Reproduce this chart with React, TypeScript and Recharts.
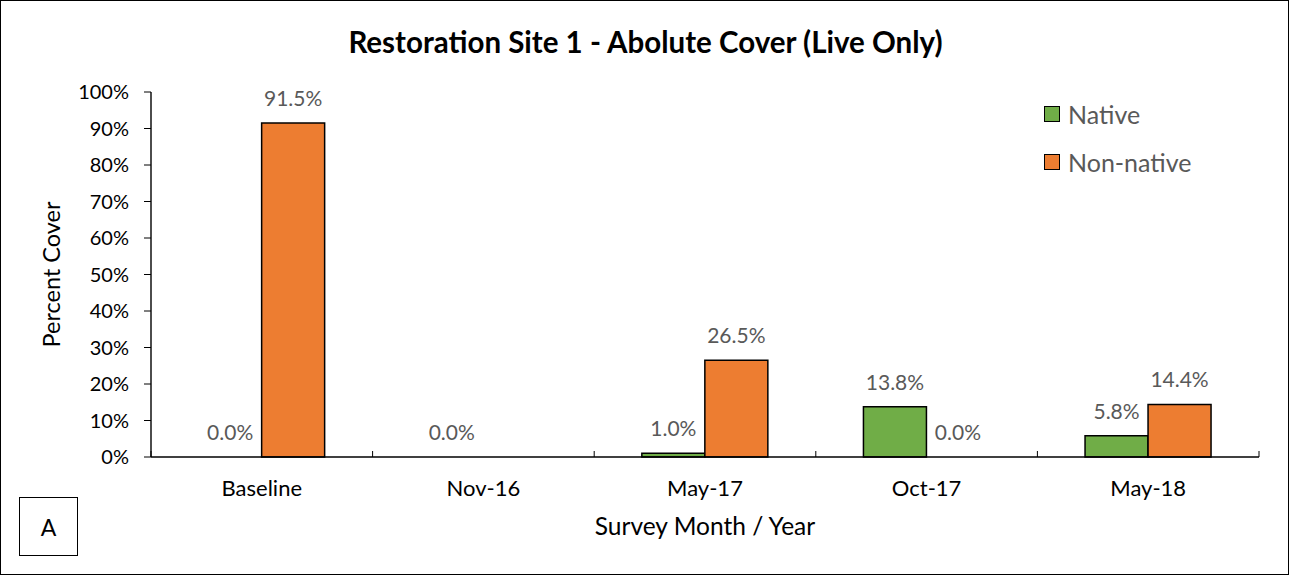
import React from "react";
import { Bar, BarChart, Cell, LabelList, XAxis, YAxis } from "recharts";

const categories = ["Baseline", "Nov-16", "May-17", "Oct-17", "May-18"];
const nativeCover = [0, 0, 1.0, 13.8, 5.8];
const nonNativeCover: Array<number | null> = [91.5, null, 26.5, 0, 14.4];
const yTicks = [0, 10, 20, 30, 40, 50, 60, 70, 80, 90, 100];

const FONT = "Lato, 'Open Sans', sans-serif";
const CHART_W = 1287;
const CHART_H = 573;
const MARGIN = { top: 91, right: 29, left: 0, bottom: 0 };
const Y_AXIS_W = 150;
const PLOT_LEFT = MARGIN.left + Y_AXIS_W;
const PLOT_RIGHT = CHART_W - MARGIN.right;
const PLOT_BOTTOM = 456;
const STEP = (PLOT_RIGHT - PLOT_LEFT) / categories.length;

const data = categories.map((name, i) => ({
  name,
  native: nativeCover[i],
  nonNative: nonNativeCover[i],
}));

const series = [
  { key: "native", label: "Native", color: "#70AD47", values: nativeCover },
  { key: "nonNative", label: "Non-native", color: "#ED7D31", values: nonNativeCover },
];

// category label plus the small upward tick at each category boundary
function CategoryTick(props: any) {
  const { x, payload, index } = props;
  return (
    <g>
      {index === 0 && (
        <line x1={x - STEP / 2} x2={x - STEP / 2} y1={PLOT_BOTTOM} y2={PLOT_BOTTOM - 6} stroke="#000" />
      )}
      <line x1={x + STEP / 2} x2={x + STEP / 2} y1={PLOT_BOTTOM} y2={PLOT_BOTTOM - 6} stroke="#000" />
      <text x={x} y={PLOT_BOTTOM + 39} textAnchor="middle" fontFamily={FONT} fontSize={22} fill="#000">
        {payload.value}
      </text>
    </g>
  );
}

function LegendBox() {
  return (
    <div style={{ position: "absolute", left: 1043, top: 99, fontFamily: FONT }}>
      {series.map((s) => (
        <div key={s.key} style={{ display: "flex", alignItems: "center", height: 28, marginBottom: 20 }}>
          <span
            style={{
              width: 14,
              height: 14,
              background: s.color,
              border: "1.5px solid #000",
              marginRight: 8,
            }}
          />
          <span style={{ fontSize: 25, color: "#595959" }}>{s.label}</span>
        </div>
      ))}
    </div>
  );
}

const pct = (v: any) => (v === null || v === undefined ? "" : `${Number(v).toFixed(1)}%`);

// zero-valued bars get a hairline so their value label still shows
const zeroMin = (v: any) => (v === 0 ? 0.5 : 0);

export default function App() {
  return (
    <div
      style={{
        position: "absolute",
        left: 0,
        top: 0,
        width: CHART_W,
        height: CHART_H,
        border: "1px solid #000",
        background: "#fff",
        fontFamily: FONT,
      }}
    >
      <div
        style={{
          position: "absolute",
          top: 23,
          left: 0,
          width: CHART_W + 2,
          textAlign: "center",
          fontSize: 29.5,
          fontWeight: 700,
          color: "#000",
        }}
      >
        Restoration Site 1 - Abolute Cover (Live Only)
      </div>
      <BarChart
        width={CHART_W}
        height={CHART_H}
        data={data}
        margin={MARGIN}
        barCategoryGap="21.5%"
        barGap={0}
      >
        <XAxis
          dataKey="name"
          height={CHART_H - PLOT_BOTTOM - MARGIN.bottom}
          axisLine={{ stroke: "#000", strokeWidth: 1.4 }}
          tickLine={false}
          tick={<CategoryTick />}
          interval={0}
          label={{
            value: "Survey Month / Year",
            position: "insideBottom",
            offset: 39,
            style: { fontFamily: FONT, fontSize: 24.5, fill: "#000" },
          }}
        />
        <YAxis
          width={Y_AXIS_W}
          domain={[0, 100]}
          ticks={yTicks}
          interval={0}
          tickFormatter={(v) => `${v}%`}
          axisLine={{ stroke: "#000", strokeWidth: 1.4 }}
          tickLine={{ stroke: "#000" }}
          tickSize={7}
          tickMargin={15}
          tick={{ fontFamily: FONT, fontSize: 20, fill: "#000" }}
          label={{
            value: "Percent Cover",
            angle: -90,
            position: "insideLeft",
            offset: 51,
            style: { fontFamily: FONT, fontSize: 23.5, fill: "#000", textAnchor: "middle" },
          }}
        />
        {series.map((s) => (
          <Bar
            key={s.key}
            dataKey={s.key}
            name={s.label}
            fill={s.color}
            stroke="#000"
            strokeWidth={1.5}
            minPointSize={zeroMin}
            isAnimationActive={false}
          >
            {s.values.map((v, i) => (
              <Cell
                key={i}
                fill={v ? s.color : "none"}
                stroke={v ? "#000" : "none"}
              />
            ))}
            <LabelList
              dataKey={s.key}
              position="top"
              offset={17}
              formatter={pct}
              style={{ fontFamily: FONT, fontSize: 21, fill: "#595959" }}
            />
          </Bar>
        ))}
      </BarChart>
      <LegendBox />
      <div
        style={{
          position: "absolute",
          left: 18,
          top: 496,
          width: 57,
          height: 57,
          border: "1.5px solid #000",
          display: "flex",
          alignItems: "center",
          justifyContent: "center",
          fontSize: 23,
          color: "#000",
        }}
      >
        A
      </div>
    </div>
  );
}
